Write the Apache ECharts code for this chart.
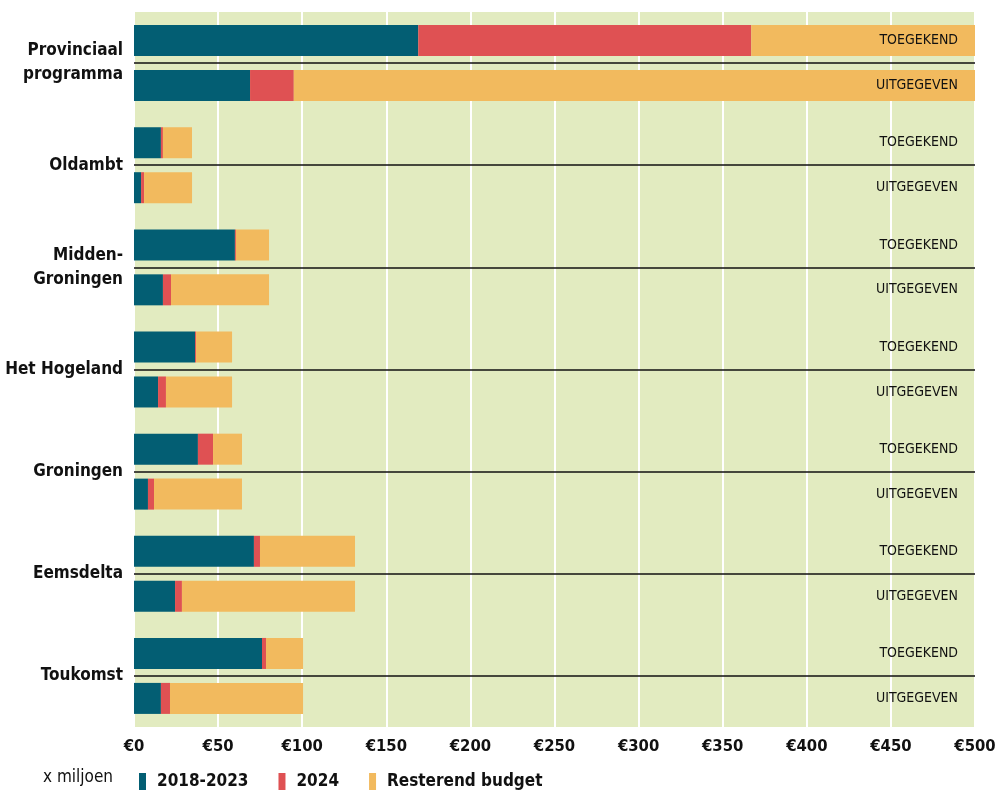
<!DOCTYPE html>
<html>
<head>
<meta charset="utf-8">
<script src="https://cdn.jsdelivr.net/npm/echarts@6/dist/echarts.min.js"></script>
<style>
  html, body { margin: 0; padding: 0; background: #fff; }
  #chart { width: 998px; height: 791px; }
</style>
</head>
<body>
<div id="chart"></div>
<script>
var categories = ['Provinciaal\nprogramma', 'Oldambt', 'Midden-\nGroningen', 'Het Hogeland', 'Groningen', 'Eemsdelta', 'Toukomst'];
var xTicks = [0, 50, 100, 150, 200, 250, 300, 350, 400, 450, 500];

// toegekend (granted), x miljoen
var toegekend2018 = [169, 16, 60, 36.3, 38, 71.3, 76.1];
var toegekend2024 = [198, 1.2, 0.6, 0.6, 9, 3.6, 2.4];
var toegekendRest = [133, 17.3, 19.7, 21.4, 17.2, 56.5, 22];

// uitgegeven (spent)
var uitgegeven2018 = [69, 4.2, 17.2, 14.3, 8.3, 24.4, 16];
var uitgegeven2024 = [26, 1.8, 4.8, 4.7, 3.6, 4.1, 5.4];
var uitgegevenRest = [405, 28.5, 58.3, 39.3, 52.3, 102.9, 79.1];

var FONT = "'Liberation Sans Narrow', 'DejaVu Sans Condensed', sans-serif";
var colors = { teal: '#035e73', red: '#df5153', orange: '#f2ba5e' };
var axisMax = xTicks[xTicks.length - 1];

function filler(a, b, c) {
    return a.map(function (v, i) {
        return +(axisMax - v - b[i] - c[i]).toFixed(2);
    });
}

function barSeries(name, stack, data, color) {
    return {
        name: name,
        type: 'bar',
        stack: stack,
        data: data,
        barWidth: 31,
        barGap: '45%',
        itemStyle: { color: color },
        emphasis: { disabled: true }
    };
}

function labelSeries(stack, data, text) {
    return {
        name: 'label-' + stack,
        type: 'bar',
        stack: stack,
        data: data,
        barWidth: 31,
        barGap: '45%',
        silent: true,
        itemStyle: { color: 'rgba(0,0,0,0)' },
        label: {
            show: true,
            position: 'insideRight',
            distance: 17,
            formatter: text,
            color: '#111',
            fontFamily: FONT,
            fontSize: 14
        }
    };
}

var series = [
    barSeries('2018-2023', 'T', toegekend2018, colors.teal),
    barSeries('2024', 'T', toegekend2024, colors.red),
    barSeries('Resterend budget', 'T', toegekendRest, colors.orange),
    labelSeries('T', filler(toegekend2018, toegekend2024, toegekendRest), 'TOEGEKEND'),
    barSeries('2018-2023', 'U', uitgegeven2018, colors.teal),
    barSeries('2024', 'U', uitgegeven2024, colors.red),
    barSeries('Resterend budget', 'U', uitgegevenRest, colors.orange),
    labelSeries('U', filler(uitgegeven2018, uitgegeven2024, uitgegevenRest), 'UITGEGEVEN'),
    // separator line through the middle of each group
    {
        name: 'sep',
        type: 'line',
        data: [],
        silent: true,
        markLine: {
            silent: true,
            symbol: 'none',
            label: { show: false },
            lineStyle: { color: '#111', width: 1.5, type: 'solid' },
            data: categories.map(function (c) { return { yAxis: c }; })
        }
    }
];

var chart = echarts.init(document.getElementById('chart'));
chart.setOption({
    animation: false,
    textStyle: { fontFamily: FONT },
    grid: {
        left: 134, right: 23, top: 12, bottom: 64,
        outerBoundsMode: 'none', containLabel: false,
        show: true, backgroundColor: '#e2ebc0', borderWidth: 0
    },
    legend: {
        data: ['2018-2023', '2024', 'Resterend budget'],
        left: 134, top: 768,
        itemWidth: 7, itemHeight: 17, itemGap: 30,
        icon: 'rect',
        selectedMode: false,
        textStyle: { fontFamily: FONT, fontSize: 17, color: '#111', fontWeight: 'bold', padding: [0, 0, 0, 6] }
    },
    graphic: [{
        type: 'text', left: 43, top: 769,
        style: { text: 'x miljoen', font: '17px ' + FONT, fill: '#111' }
    }],
    xAxis: {
        type: 'value', min: 0, max: axisMax, interval: 50,
        axisLine: { show: false }, axisTick: { show: false },
        splitLine: { lineStyle: { color: '#ffffff', width: 2 } },
        axisLabel: {
            margin: 11, color: '#111', fontSize: 16.5, fontWeight: 'bold', fontFamily: FONT,
            formatter: function (v) { return '€' + v; }
        }
    },
    yAxis: {
        type: 'category', data: categories, inverse: true,
        axisLine: { show: false }, axisTick: { show: false },
        axisLabel: {
            margin: 11, color: '#111', fontSize: 17, fontWeight: 'bold', fontFamily: FONT,
            lineHeight: 24, align: 'right'
        }
    },
    series: series
});
</script>
</body>
</html>
